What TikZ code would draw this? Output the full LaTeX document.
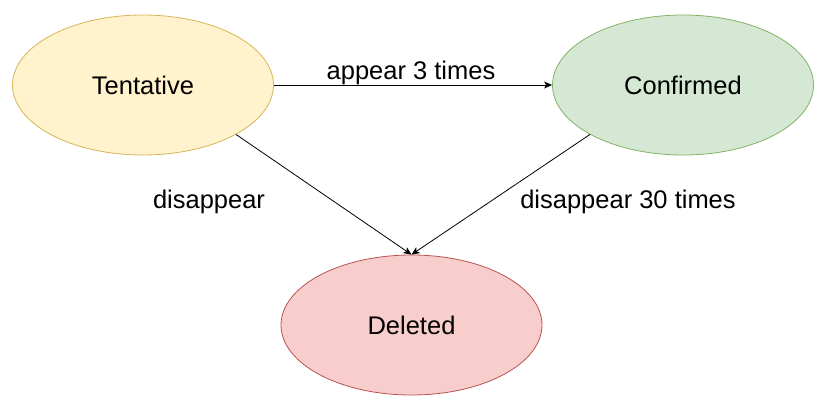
\documentclass[tikz,border=0pt]{standalone}
\usepackage{fontspec}
\setmainfont{Liberation Sans}
\usetikzlibrary{shapes.geometric,arrows.meta}
\definecolor{yfill}{HTML}{FFF2CC}\definecolor{ydraw}{HTML}{D6B656}
\definecolor{gfill}{HTML}{D5E8D4}\definecolor{gdraw}{HTML}{82B366}
\definecolor{rfill}{HTML}{F8CECC}\definecolor{rdraw}{HTML}{B85450}
\begin{document}
\begin{tikzpicture}[x=1pt,y=-1pt,
  state/.style={ellipse,minimum width=261pt,minimum height=140pt,inner sep=0pt,line width=0.8pt,font=\fontsize{25.5}{30}\selectfont},
  lbl/.style={font=\fontsize{25.5}{30}\selectfont,inner sep=0pt},
  conn/.style={line width=0.8pt,-{Stealth[length=8pt,width=7pt,inset=2pt]}}]
\useasboundingbox (0,0) rectangle (831,408);
\node[state,fill=yfill,draw=ydraw] (t) at (143,85) {Tentative};
\node[state,fill=gfill,draw=gdraw] (c) at (683,85) {Confirmed};
\node[state,fill=rfill,draw=rdraw] (d) at (411.5,325) {Deleted};
\draw[conn] (t.east) -- (c.west);
\draw[conn] (t.-28) -- (d.north);
\draw[conn] (c.-152) -- (d.north);
\node[lbl] (l1) at (411,73) {appear 3 times};
\node[lbl] (l2) at (209,202) {disappear};
\node[lbl] (l3) at (628,202) {disappear 30 times};
\end{tikzpicture}
\end{document}
